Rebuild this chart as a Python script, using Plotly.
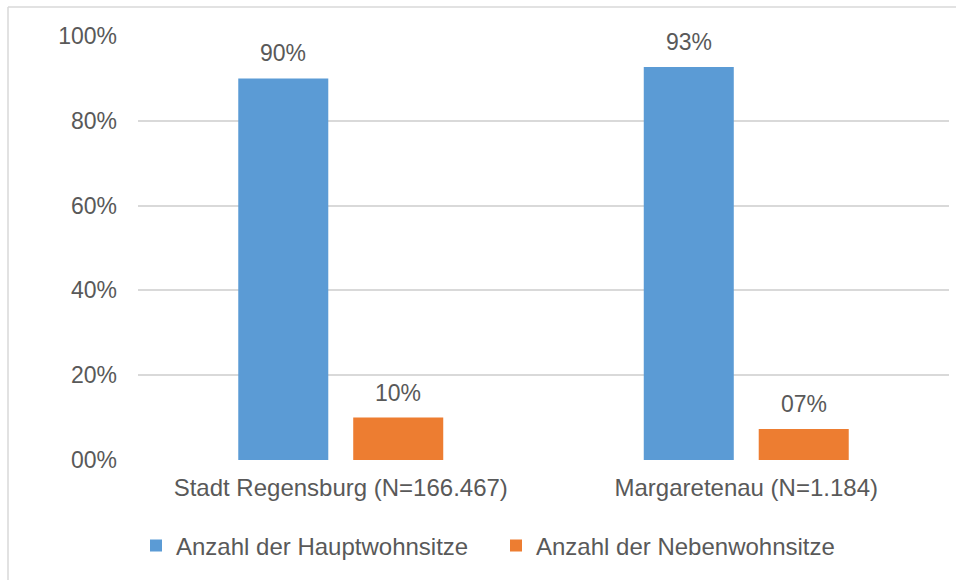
import plotly.graph_objects as go

categories = ["Stadt Regensburg (N=166.467)", "Margaretenau (N=1.184)"]
haupt = [0.90, 0.927]
neben = [0.10, 0.073]
series_names = ["Anzahl der Hauptwohnsitze", "Anzahl der Nebenwohnsitze"]
y_tickvals = [0, 0.2, 0.4, 0.6, 0.8, 1.0]
y_ticktext = ["00%", "20%", "40%", "60%", "80%", "100%"]

colors = ["#5B9BD5", "#ED7D31"]
txt = "#595959"
font_family = "Liberation Sans, Arial, sans-serif"

def lab(v):
    return f"{round(v * 100):02d}%"

fig = go.Figure()
for name, vals, col in zip(series_names, [haupt, neben], colors):
    fig.add_trace(go.Bar(x=categories, y=vals, name=name, marker_color=col,
                         marker_line_width=0, hoverinfo="skip"))

# data labels above bars
slot_shift = 57.5
for i, (vals, sh) in enumerate(zip([haupt, neben], [-slot_shift, slot_shift])):
    for c, v in zip(categories, vals):
        fig.add_annotation(x=c, y=v, text=lab(v), showarrow=False, xshift=sh,
                           yshift=25, yanchor="middle",
                           font=dict(size=23, color=txt, family=font_family))

L, R, T, B = 138, 7, 36, 120
W, H = 956, 580
pw, ph = W - L - R, H - T - B
def px(x):
    return (x - L) / pw
def py(y):
    return (H - B - y) / ph

border = "#D9D9D9"
fig.add_shape(type="line", xref="paper", yref="paper", x0=px(8), x1=px(965),
              y0=py(7), y1=py(7), line=dict(color=border, width=1.5))
fig.add_shape(type="line", xref="paper", yref="paper", x0=px(8), x1=px(8),
              y0=py(7), y1=py(600), line=dict(color=border, width=1.5))

fig.update_layout(
    width=W, height=H,
    margin=dict(l=L, r=R, t=T, b=B),
    paper_bgcolor="white", plot_bgcolor="white",
    barmode="group", bargap=0.433, bargroupgap=0.217,
    font=dict(family=font_family, color=txt, size=24),
    showlegend=True,
    legend=dict(orientation="h", x=px(136), xanchor="left", y=py(546),
                yanchor="middle", font=dict(size=24, color=txt),
                entrywidth=315, itemwidth=30, bgcolor="rgba(0,0,0,0)"),
    xaxis=dict(showgrid=False, showline=False, ticks="",
               tickfont=dict(size=24, color=txt), ticklabelstandoff=11),
    yaxis=dict(range=[0, 1], tickvals=y_tickvals, ticktext=y_ticktext,
               showgrid=True, gridcolor="#D9D9D9", gridwidth=1.5,
               zeroline=False, showline=False, ticks="",
               tickfont=dict(size=23, color=txt), ticklabelstandoff=20),
)

fig.write_html("out.html", config={"displayModeBar": False},
               post_script="document.body.style.margin='0';document.body.style.overflow='hidden';")
